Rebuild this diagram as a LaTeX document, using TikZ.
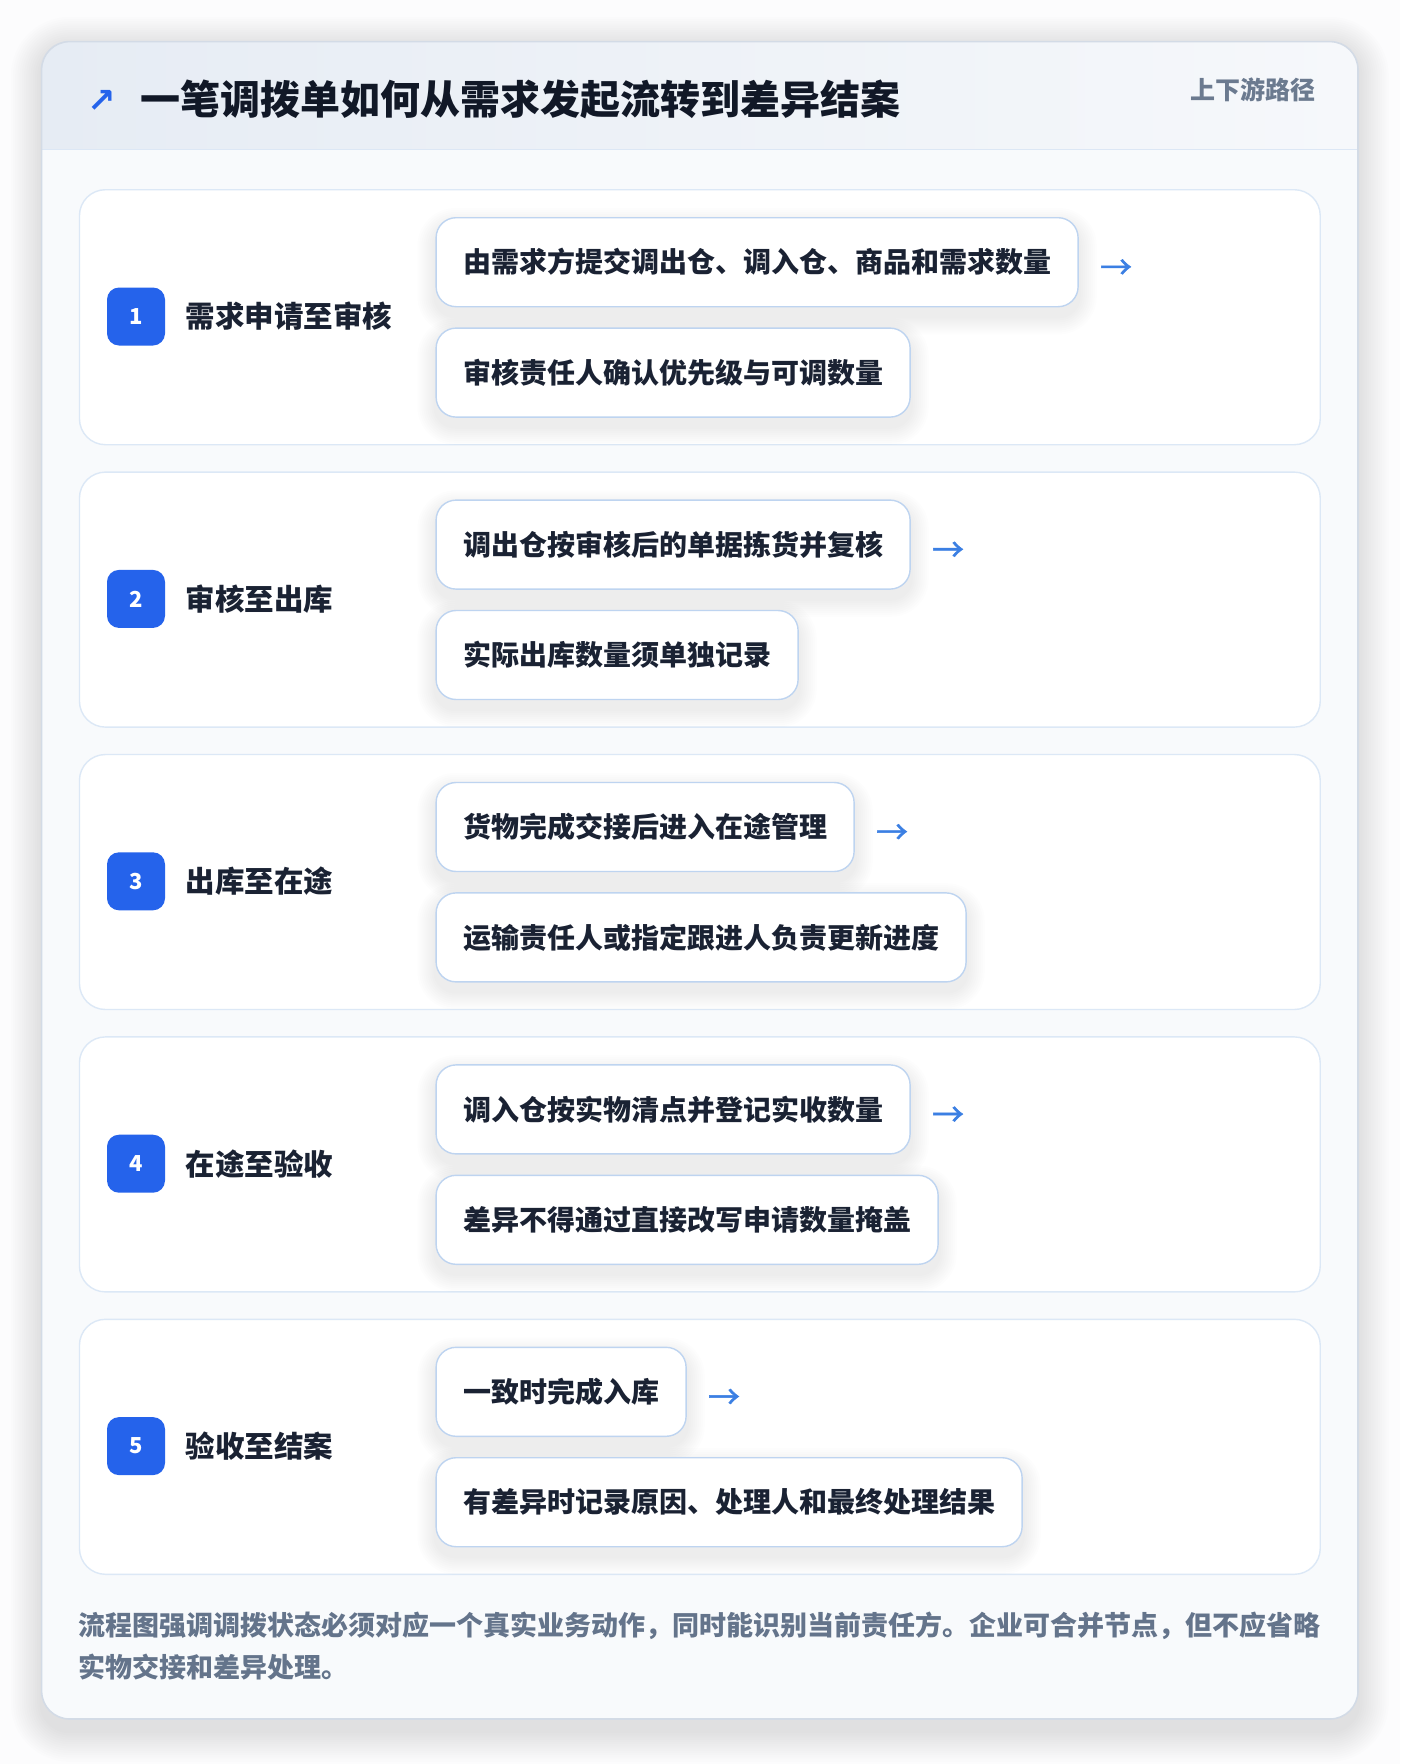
\documentclass[tikz,border=0pt]{standalone}
\usepackage{fontspec}
\setmainfont{Noto Sans CJK SC}
\newfontfamily\symfont{DejaVu Sans}
\newfontfamily\arrowfont{Noto Sans CJK SC}[FakeBold=1.6]
\definecolor{pagebg}{HTML}{FCFCFD}
\definecolor{bodybg}{HTML}{F8FAFC}
\definecolor{outerline}{HTML}{D3DBE6}
\definecolor{headL}{HTML}{E6ECF4}
\definecolor{headR}{HTML}{F6F8FB}
\definecolor{headline}{HTML}{DCE7F5}
\definecolor{titlecol}{HTML}{111827}
\definecolor{subcol}{HTML}{6B7A8F}
\definecolor{cardline}{HTML}{DCE8F6}
\definecolor{boxline}{HTML}{BED4F0}
\definecolor{badgecol}{HTML}{2563EB}
\definecolor{textcol}{HTML}{1A2233}
\definecolor{arrowcol}{HTML}{3B7FE3}
\definecolor{footcol}{HTML}{64748B}
\definecolor{shadowcol}{HTML}{1E293B}
\pgfdeclarelayer{cardlayer}
\pgfdeclarelayer{shadowlayer}
\pgfsetlayers{cardlayer,shadowlayer,main}
\tikzset{
  seccard/.style={draw=cardline, line width=1.4pt, fill=white, rounded corners=26pt,
    minimum width=1240.8pt, minimum height=255pt, anchor=north west, inner sep=0pt},
  badge/.style={fill=badgecol, rounded corners=12pt, minimum width=58pt, minimum height=58pt,
    inner sep=0pt, text=white, font=\fontsize{22}{26}\selectfont\bfseries},
  seclabel/.style={anchor=west, inner sep=0pt, text=textcol, font=\fontsize{29.5}{34}\selectfont\bfseries},
  stepbox/.style={draw=boxline, line width=1.4pt, fill=white, rounded corners=20pt,
    minimum height=89pt, inner xsep=27pt, inner ysep=0pt, anchor=north west, text=textcol,
    font=\fontsize{28}{32}\selectfont\bfseries},
  arrowtxt/.style={anchor=west, inner sep=0pt, text=arrowcol, font=\arrowfont\fontsize{32}{32}\selectfont},
  foottext/.style={anchor=west, inner sep=0pt, text=footcol, font=\fontsize{27}{32}\selectfont\bfseries},
  softlayer/.style={fill=shadowcol, opacity=0.009},
}
\newcommand{\boxshadow}[1]{%
  \begin{pgfonlayer}{shadowlayer}
  \foreach \k in {1,...,9}{
    \fill[softlayer, rounded corners=20pt+2*\k pt]
      ([xshift=-2*\k pt, yshift=-9pt+2*\k pt]#1.north west) rectangle
      ([xshift=2*\k pt, yshift=-9pt-2*\k pt]#1.south east);
  }
  \end{pgfonlayer}}
\begin{document}
\begin{tikzpicture}[x=1pt,y=-1pt]
\useasboundingbox (0,0) rectangle (1400,1764);
\begin{pgfonlayer}{cardlayer}
\fill[pagebg] (0,0) rectangle (1400,1764);
% outer card shadow
\foreach \k in {1,...,14}{
  \fill[fill=shadowcol, opacity=0.007, rounded corners=28pt+2.2*\k pt]
    (41.6-2.2*\k, 41.6+6-2.2*\k) rectangle (1358+2.2*\k, 1719+12+2.2*\k);
}
% outer card
\fill[bodybg, rounded corners=28pt] (41.6,41.6) rectangle (1358,1719);
\begin{scope}
  \clip[rounded corners=28pt] (41.6,41.6) rectangle (1358,1719);
  \shade[left color=headL, right color=headR] (41.6,41.6) rectangle (1358,149.6);
  \draw[headline, line width=1.6pt] (41.6,149.6) -- (1358,149.6);
\end{scope}
\draw[outerline, line width=1.6pt, rounded corners=28pt] (41.6,41.6) rectangle (1358,1719);
\end{pgfonlayer}
% title
\node[anchor=center, inner sep=0pt, text=badgecol, font=\symfont\bfseries\fontsize{34}{36}\selectfont] (icon) at (102,101) {↗};
\node[anchor=west, inner sep=0pt, text=titlecol, font=\fontsize{40}{46}\selectfont\bfseries] (title) at (140.6,99) {一笔调拨单如何从需求发起流转到差异结案};
\node[anchor=east, inner sep=0pt, text=subcol, font=\fontsize{25}{28}\selectfont\bfseries] (sub) at (1316,90) {上下游路径};
% sections
\foreach \i/\num/\lab/\ta/\tb in {
  0/1/需求申请至审核/由需求方提交调出仓、调入仓、商品和需求数量/审核责任人确认优先级与可调数量,
  1/2/审核至出库/调出仓按审核后的单据拣货并复核/实际出库数量须单独记录,
  2/3/出库至在途/货物完成交接后进入在途管理/运输责任人或指定跟进人负责更新进度,
  3/4/在途至验收/调入仓按实物清点并登记实收数量/差异不得通过直接改写申请数量掩盖,
  4/5/验收至结案/一致时完成入库/有差异时记录原因、处理人和最终处理结果}{
  \pgfmathsetmacro{\top}{189+282.4*\i}
  \begin{pgfonlayer}{cardlayer}
  \node[seccard] (s\num) at (78.75,\top) {};
  \end{pgfonlayer}
  \node[badge] (b\num) at (136,\top+127.5) {\num};
  \node[seclabel] (l\num) at (185.6,\top+127.5) {\lab};
  \node[stepbox] (a\num) at (435.4,\top+28) {\ta};
  \node[stepbox] (c\num) at (435.4,\top+138.4) {\tb};
  \boxshadow{a\num}
  \boxshadow{c\num}
  \node[arrowtxt] (r\num) at ([xshift=21pt,yshift=-7pt]a\num.east) {→};
}
% footer
\node[foottext] (f1) at (78.75,1625.6) {流程图强调调拨状态必须对应一个真实业务动作，同时能识别当前责任方。企业可合并节点，但不应省略};
\node[foottext] (f2) at (78.75,1667) {实物交接和差异处理。};
\end{tikzpicture}
\end{document}
